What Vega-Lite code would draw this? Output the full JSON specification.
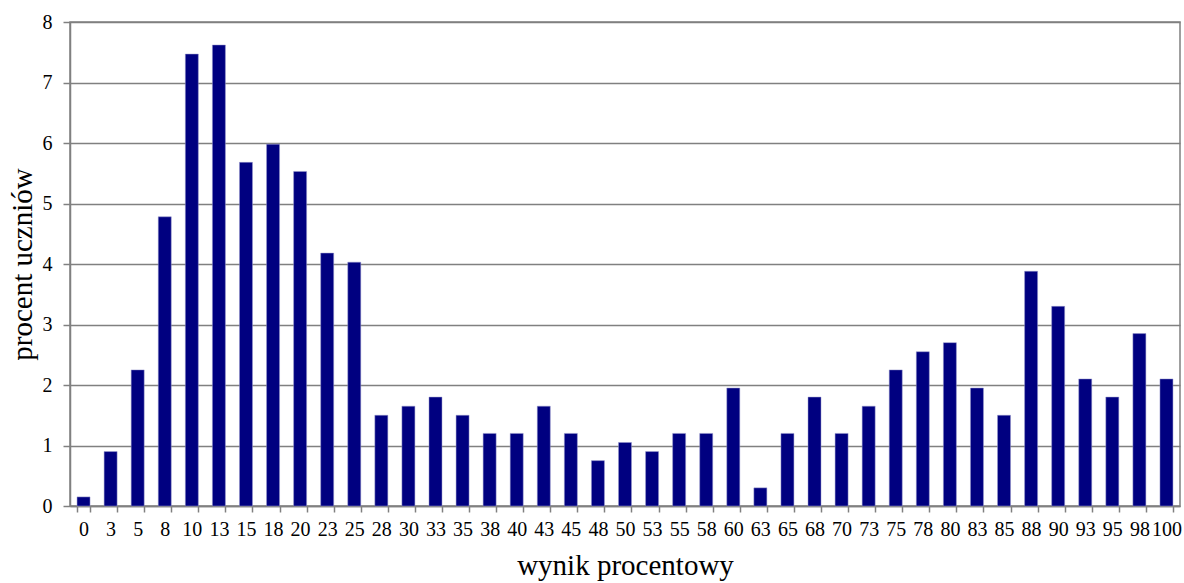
{
  "$schema": "https://vega.github.io/schema/vega-lite/v6.json",
  "autosize": "none",
  "width": 1110,
  "height": 484,
  "padding": {"left": 70, "top": 22, "right": 4, "bottom": 77},
  "background": "white",
  "config": {
    "font": "Liberation Serif",
    "view": {"stroke": "#808080", "strokeWidth": 1.5}
  },
  "data": {
    "values": [
      {"wynik": "0", "procent": 0.15},
      {"wynik": "3", "procent": 0.9},
      {"wynik": "5", "procent": 2.25},
      {"wynik": "8", "procent": 4.78},
      {"wynik": "10", "procent": 7.47},
      {"wynik": "13", "procent": 7.62},
      {"wynik": "15", "procent": 5.68},
      {"wynik": "18", "procent": 5.98},
      {"wynik": "20", "procent": 5.53},
      {"wynik": "23", "procent": 4.18},
      {"wynik": "25", "procent": 4.03},
      {"wynik": "28", "procent": 1.5},
      {"wynik": "30", "procent": 1.65},
      {"wynik": "33", "procent": 1.8},
      {"wynik": "35", "procent": 1.5},
      {"wynik": "38", "procent": 1.2},
      {"wynik": "40", "procent": 1.2},
      {"wynik": "43", "procent": 1.65},
      {"wynik": "45", "procent": 1.2},
      {"wynik": "48", "procent": 0.75},
      {"wynik": "50", "procent": 1.05},
      {"wynik": "53", "procent": 0.9},
      {"wynik": "55", "procent": 1.2},
      {"wynik": "58", "procent": 1.2},
      {"wynik": "60", "procent": 1.95},
      {"wynik": "63", "procent": 0.3},
      {"wynik": "65", "procent": 1.2},
      {"wynik": "68", "procent": 1.8},
      {"wynik": "70", "procent": 1.2},
      {"wynik": "73", "procent": 1.65},
      {"wynik": "75", "procent": 2.25},
      {"wynik": "78", "procent": 2.55},
      {"wynik": "80", "procent": 2.7},
      {"wynik": "83", "procent": 1.95},
      {"wynik": "85", "procent": 1.5},
      {"wynik": "88", "procent": 3.88},
      {"wynik": "90", "procent": 3.3},
      {"wynik": "93", "procent": 2.1},
      {"wynik": "95", "procent": 1.8},
      {"wynik": "98", "procent": 2.85},
      {"wynik": "100", "procent": 2.1}
    ]
  },
  "mark": {"type": "bar", "color": "#000080", "stroke": "#9999cc", "strokeWidth": 0.5},
  "encoding": {
    "x": {
      "field": "wynik",
      "type": "ordinal",
      "sort": null,
      "scale": {"paddingInner": 0.52, "paddingOuter": 0.26},
      "axis": {
        "title": "wynik procentowy",
        "titleFont": "Liberation Serif",
        "titleFontSize": 29,
        "titleFontWeight": "normal",
        "titleColor": "black",
        "titlePadding": 12,
        "labelFont": "Liberation Serif",
        "labelFontSize": 20,
        "labelColor": "black",
        "labelAngle": 0,
        "labelPadding": 7,
        "labelOverlap": false,
        "labelBound": false,
        "tickBand": "extent",
        "tickColor": "#808080",
        "tickSize": 6,
        "tickWidth": 1.5,
        "domainColor": "#808080",
        "domainWidth": 1.5,
        "grid": false
      }
    },
    "y": {
      "field": "procent",
      "type": "quantitative",
      "scale": {"domain": [0, 8], "nice": false},
      "axis": {
        "title": "procent uczniów",
        "titleFont": "Liberation Serif",
        "titleFontSize": 29,
        "titleFontWeight": "normal",
        "titleColor": "black",
        "titlePadding": 5,
        "labelFont": "Liberation Serif",
        "labelFontSize": 20,
        "labelColor": "black",
        "labelPadding": 11,
        "labelOverlap": false,
        "labelFlush": false,
        "values": [0, 1, 2, 3, 4, 5, 6, 7, 8],
        "tickColor": "#808080",
        "tickSize": 7,
        "tickWidth": 1.5,
        "domainColor": "#808080",
        "domainWidth": 1.5,
        "grid": true,
        "gridColor": "#808080",
        "gridWidth": 1.5
      }
    }
  }
}
